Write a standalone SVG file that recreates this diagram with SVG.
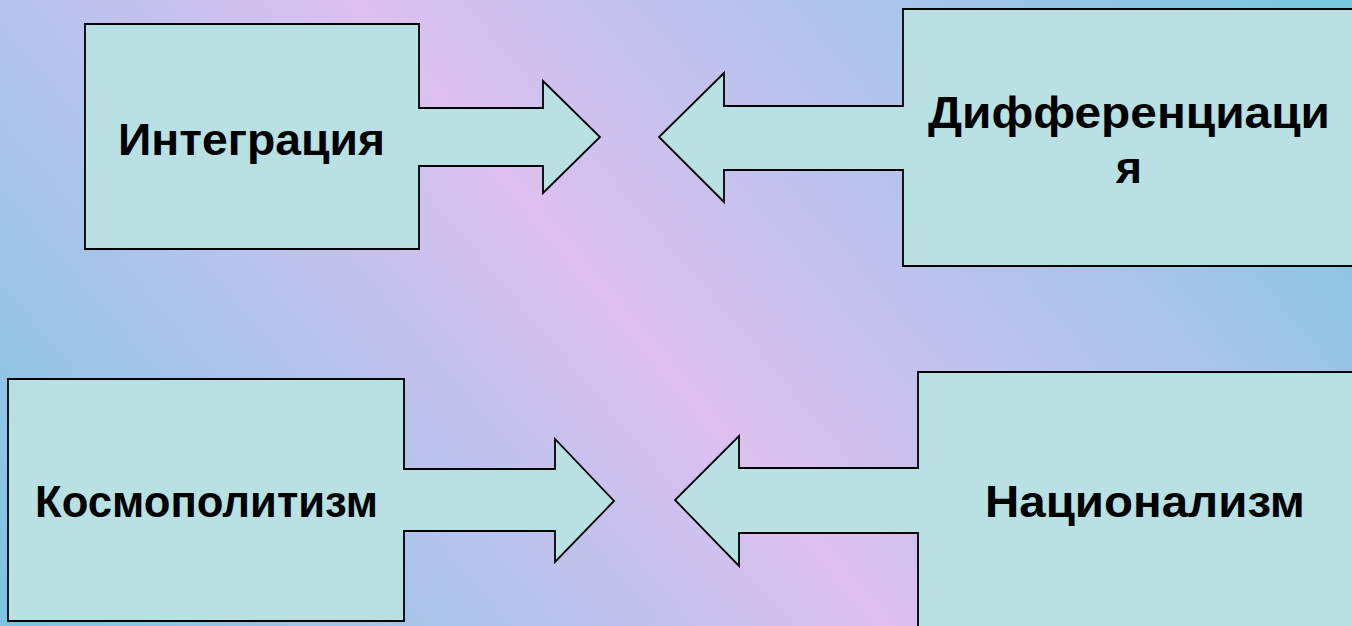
<svg xmlns="http://www.w3.org/2000/svg" width="1352" height="626" viewBox="0 0 1352 626">
<style>
.shape{fill:#b9e0e3;stroke:#000;stroke-width:1.8;stroke-linejoin:miter}
.lbl{font-family:"Liberation Sans",Arial,sans-serif;font-weight:bold;font-size:45px;fill:#000;text-anchor:middle}
</style>
<defs>
<linearGradient id="bg" gradientUnits="userSpaceOnUse" x1="0" y1="626" x2="1096" y2="-302">
<stop offset="0" stop-color="#7cc4e0"/>
<stop offset="0.2" stop-color="#a4c4e8"/>
<stop offset="0.47" stop-color="#dcc0f0"/>
<stop offset="0.75" stop-color="#aac4ea"/>
<stop offset="1" stop-color="#74c8dc"/>
</linearGradient>
</defs>
<rect width="1352" height="626" fill="url(#bg)"/>
<g id="connectors"></g>
<g id="node-integration">
<path class="shape" d="M85,24 H419 V108 H543 V81 L600,137 L543,193 V166 H419 V249 H85 Z"/>
<text class="lbl" x="251.5" y="155" textLength="267" lengthAdjust="spacingAndGlyphs">Интеграция</text>
</g>
<g id="node-differentiation">
<path class="shape" d="M1360,9 H903 V106 H724 V73 L659,137 L724,202 V170 H903 V266 H1360 Z"/>
<text class="lbl" x="1129" y="128" textLength="402" lengthAdjust="spacingAndGlyphs">Дифференциаци</text>
<text class="lbl" x="1129" y="183">я</text>
</g>
<g id="node-cosmopolitism">
<path class="shape" d="M8,379 H404 V469 H555 V439 L614,501 L555,562 V531 H404 V621 H8 Z"/>
<text class="lbl" x="206.5" y="517" textLength="343" lengthAdjust="spacingAndGlyphs">Космополитизм</text>
</g>
<g id="node-nationalism">
<path class="shape" d="M1372,372 H918 V468 H739 V436 L675,500 L739,566 V533 H918 V632 H1372 Z"/>
<text class="lbl" x="1145" y="517" textLength="320" lengthAdjust="spacingAndGlyphs">Национализм</text>
</g>
</svg>
